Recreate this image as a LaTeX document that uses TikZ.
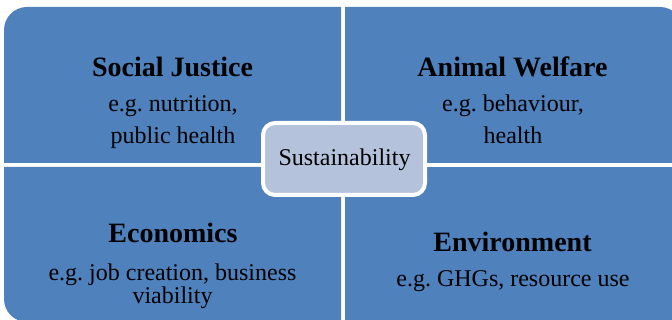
\documentclass[tikz,border=0pt]{standalone}
\usepackage{fontspec}
\setmainfont{Liberation Serif}
\frenchspacing
\definecolor{quadblue}{HTML}{4F81BD}
\definecolor{coreblue}{HTML}{B4C3DB}
\tikzset{
  quadtitle/.style={anchor=base, inner sep=0pt, text=black, font=\fontsize{28}{30}\selectfont\bfseries},
  quadbody/.style={anchor=base, inner sep=0pt, text=black, font=\fontsize{24}{26}\selectfont},
  quadfill/.style={fill=quadblue},
  corebox/.style={draw=white, line width=4pt, fill=coreblue, rounded corners=12pt, minimum width=162pt, minimum height=72pt, inner sep=0pt}
}
\begin{document}
\frenchspacing
\begin{tikzpicture}[x=1pt,y=1pt]
\useasboundingbox (0,0) rectangle (672,-320);
\clip (0,0) rectangle (672,-320);
% quadrants
\path[quadfill] (4,-163) -- (4,-30) arc[start angle=180,end angle=90,radius=23] -- (341,-7) -- (341,-163) -- cycle;
\path[quadfill] (345,-163) -- (345,-7) -- (660,-7) arc[start angle=90,end angle=0,radius=23] -- (683,-163) -- cycle;
\path[quadfill] (4,-167) -- (341,-167) -- (341,-322) -- (27,-322) arc[start angle=270,end angle=180,radius=23] -- cycle;
\path[quadfill] (345,-167) rectangle (683,-322);
% texts
\node[quadtitle] (sjt) at (172.5,-77) {Social Justice};
\node[quadbody] (sj1) at (173,-112) {e.g. nutrition,};
\node[quadbody] (sj2) at (173,-144) {public health};
\node[quadtitle] (ect) at (173,-243) {Economics};
\node[quadbody, anchor=north, align=center, font=\fontsize{24}{21}\selectfont] (ec1) at (172.5,-263.5) {e.g. job creation, business\\viability};
\node[quadtitle] (awt) at (512.5,-77) {Animal Welfare};
\node[quadbody] (aw1) at (513,-112) {e.g. behaviour,};
\node[quadbody] (aw2) at (513,-144) {health};
\node[quadtitle] (ent) at (512.5,-252) {Environment};
\node[quadbody] (en1) at (513,-287) {e.g. GHGs, resource use};
% centre
\node[corebox] (core) at (344,-159) {};
\node[quadbody] (sust) at (344.5,-166) {Sustainability};
\end{tikzpicture}
\end{document}
